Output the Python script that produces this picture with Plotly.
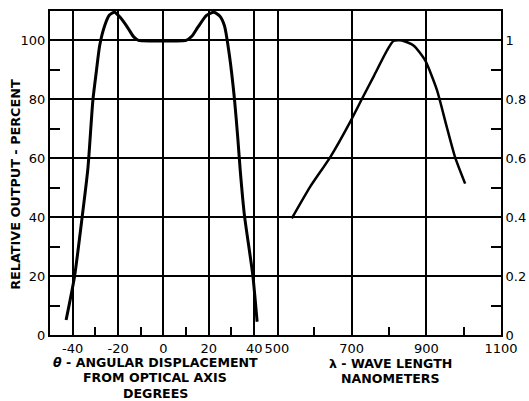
import plotly.graph_objects as go

# Left panel: angular response
theta_deg = [-42.9, -39.2, -35.9, -33.3, -31.1, -29.6, -28.1, -25.9, -23.8, -21.6, -18.8, -15.7, -13.2, -11.0, -5, 0, 5, 10, 12.5, 15.2, 19.0, 22.2, 24.8, 26.9, 29.1, 31.3, 32.8, 33.9, 35.7, 39.4, 41.3]
output_pct = [5.1, 19.8, 39.6, 56.5, 79.7, 89.3, 98.3, 105, 108.6, 109.6, 107.6, 104.3, 101.3, 100.0, 99.8, 99.8, 99.8, 100.0, 101.4, 104.5, 108.5, 109.6, 108.3, 105, 94.9, 80.2, 66.7, 55.5, 40.7, 20.3, 4.5]

# Right panel: spectral response
wavelength_nm = [540, 589, 643, 696, 728, 760, 795, 812, 835, 866, 897, 929, 953, 977, 1004]
rel_output = [0.396, 0.503, 0.604, 0.723, 0.802, 0.88, 0.966, 0.998, 1.0, 0.983, 0.932, 0.83, 0.715, 0.604, 0.514]

left_x_ticks = [-40, -20, 0, 20, 40]
left_x_labels = ["-40", "-20", "0", "20", "40"]
left_x_minor = [-30, -10, 10, 30]
right_x_ticks = [500, 700, 900, 1100]
right_x_labels = ["500", "700", "900", "1100"]
right_x_minor = [600, 800, 1000]
left_y_ticks = [0, 20, 40, 60, 80, 100]
left_y_minor = [10, 30, 50, 70, 90]
right_y_ticks = [0, 0.2, 0.4, 0.6, 0.8, 1.0]
right_y_labels = ["0", "0.2", "0.4", "0.6", "0.8", "1"]
right_y_minor = [0.1, 0.3, 0.5, 0.7, 0.9]

y_title = "RELATIVE OUTPUT - PERCENT"
left_x_title = ["<i>θ</i> - ANGULAR DISPLACEMENT", "FROM OPTICAL AXIS", "DEGREES"]
right_x_title = ["λ - WAVE LENGTH", "NANOMETERS"]

FONT = "DejaVu Sans, Verdana, sans-serif"
d = 0.503

fig = go.Figure()
fig.add_trace(go.Scatter(x=theta_deg, y=output_pct, mode="lines",
                         line=dict(color="black", width=3, shape="spline", smoothing=0.6),
                         xaxis="x", yaxis="y", showlegend=False, hoverinfo="skip"))
fig.add_trace(go.Scatter(x=wavelength_nm, y=rel_output, mode="lines",
                         line=dict(color="black", width=2.5, shape="spline", smoothing=0.6),
                         xaxis="x2", yaxis="y2", showlegend=False, hoverinfo="skip"))

axcommon = dict(showline=True, linecolor="black", linewidth=2,
                showgrid=True, gridcolor="black", gridwidth=1.5, zeroline=False,
                automargin=False,
                ticks="", tickfont=dict(family=FONT, size=13, color="black"))

annotations = [
    dict(text="<b>" + y_title + "</b>", textangle=-90,
         xref="paper", yref="paper", x=-0.078, y=0.466,
         xanchor="center", yanchor="middle",
         showarrow=False, font=dict(family=FONT, size=12.8, color="black")),
]
for i, line in enumerate(left_x_title):
    annotations.append(dict(text="<b>" + line + "</b>", xref="paper", yref="paper",
                            x=0.233, y=-0.0849 - i * 0.0478,
                            xanchor="center", yanchor="middle", showarrow=False,
                            font=dict(family=FONT, size=12.6, color="black")))
for i, line in enumerate(right_x_title):
    annotations.append(dict(text="<b>" + line + "</b>", xref="paper", yref="paper",
                            x=0.754, y=-0.088 - i * 0.0478,
                            xanchor="center", yanchor="middle", showarrow=False,
                            font=dict(family=FONT, size=12.6, color="black")))

fig.update_layout(
    width=529, height=401,
    margin=dict(l=50, r=28, t=11, b=66),
    paper_bgcolor="white", plot_bgcolor="white",
    xaxis=dict(domain=[0, d], range=[-50, 50], anchor="y", mirror=True,
               tickvals=left_x_ticks, ticktext=left_x_labels,
               minor=dict(tickvals=left_x_minor, ticks="inside", ticklen=8,
                          tickwidth=1.5, tickcolor="black", showgrid=False),
               **axcommon),
    xaxis2=dict(domain=[d, 1], range=[500, 1100], anchor="y2", mirror=True,
                tickvals=right_x_ticks, ticktext=right_x_labels,
                minor=dict(tickvals=right_x_minor, ticks="inside", ticklen=8,
                           tickwidth=1.5, tickcolor="black", showgrid=False),
                **axcommon),
    yaxis=dict(range=[0, 110], anchor="x", side="left", mirror=True,
               tickvals=left_y_ticks,
               minor=dict(tickvals=left_y_minor, ticks="inside", ticklen=10,
                          tickwidth=1.5, tickcolor="black", showgrid=False),
               **axcommon),
    yaxis2=dict(range=[0, 1.1], anchor="x2", side="right", mirror=False,
                tickvals=right_y_ticks, ticktext=right_y_labels,
                minor=dict(tickvals=right_y_minor, ticks="inside", ticklen=10,
                           tickwidth=1.5, tickcolor="black", showgrid=False),
                **axcommon),
    annotations=annotations,
)

fig.write_html("out.html", config={"displayModeBar": False},
               post_script="document.body.style.margin='0';")
